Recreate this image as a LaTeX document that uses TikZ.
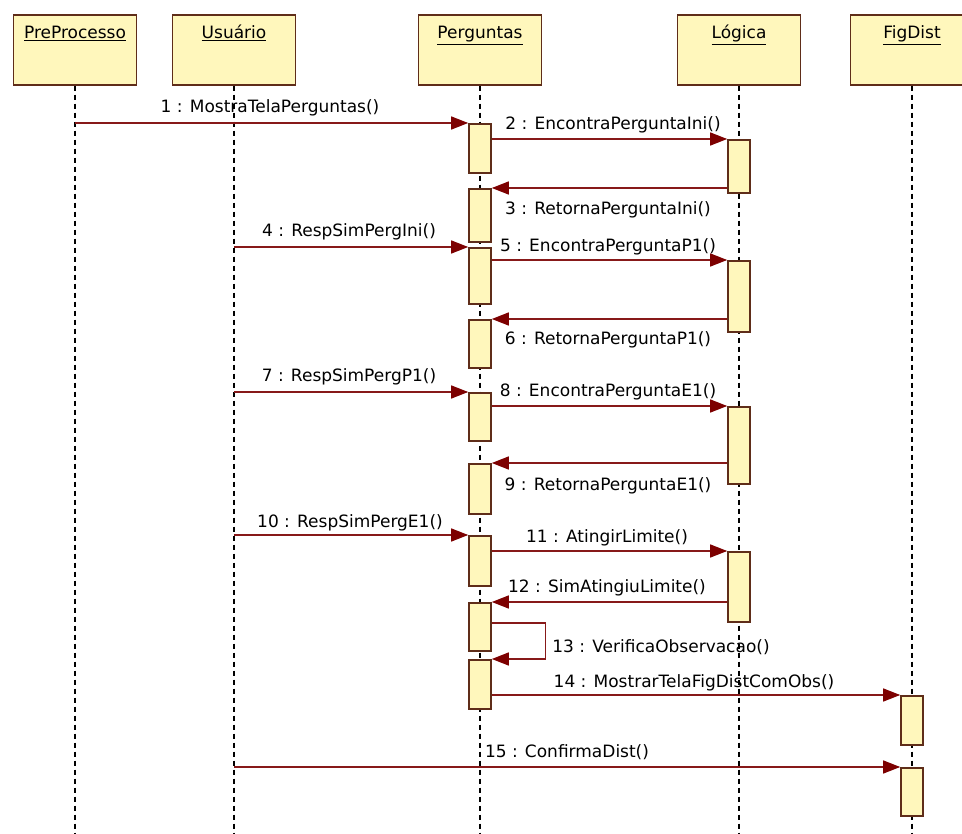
\documentclass[tikz,border=0pt]{standalone}
\usepackage{fontspec}
\setmainfont{DejaVu Sans}
\usetikzlibrary{arrows.meta,calc}
\definecolor{boxfill}{RGB}{255,247,188}
\definecolor{boxline}{RGB}{95,45,25}
\definecolor{msgline}{RGB}{135,25,25}
\definecolor{msghead}{RGB}{125,0,0}
\begin{document}
\begin{tikzpicture}[x=1pt,y=-1pt,
  hdr/.style={draw=boxline,line width=1.6pt,fill=boxfill,minimum width=123pt,minimum height=70pt,anchor=north,inner sep=0pt},
  hdrtext/.style={font=\fontsize{17}{20}\selectfont,anchor=base,inner sep=0pt},
  act/.style={draw=boxline,line width=1.6pt,fill=boxfill,minimum width=22pt,anchor=north,inner sep=0pt},
  life/.style={line width=1.3pt,dash pattern=on 5pt off 4pt},
  msg/.style={draw=msgline,line width=1.3pt,-{Triangle[length=17pt,width=13pt,fill=msghead,color=msghead]}},
  lbl/.style={font=\fontsize{17}{20}\selectfont,anchor=base,inner sep=0pt}]
\useasboundingbox (0,0) rectangle (962,834);
\clip (0,0) rectangle (962,834);
\fill[white] (0,0) rectangle (962,834);

% headers
\node[hdr] (Pre) at (75,14) {};
\node[hdr] (Usu) at (234,14) {};
\node[hdr] (Per) at (480,14) {};
\node[hdr] (Log) at (739,14) {};
\node[hdr] (Fig) at (912,14) {};
\node[hdrtext] (PreT) at (75,39) {\underline{PreProcesso}};
\node[hdrtext] (UsuT) at (234,39) {\underline{Usuário}};
\node[hdrtext] (PerT) at (480,39) {\underline{Perguntas}};
\node[hdrtext] (LogT) at (739,39) {\underline{Lógica}};
\node[hdrtext] (FigT) at (912,39) {\underline{FigDist}};

% lifelines
\foreach \n in {Pre,Usu,Per,Log,Fig}
  \draw[life] (\n.south) -- (\n.south |- 0,834);

% activations on Perguntas
\node[act,minimum height=49pt] (A1) at (480,123) {};
\node[act,minimum height=53pt] (A2) at (480,188) {};
\node[act,minimum height=56pt] (A3) at (480,247) {};
\node[act,minimum height=48pt] (A4) at (480,319) {};
\node[act,minimum height=48pt] (A5) at (480,392) {};
\node[act,minimum height=50pt] (A6) at (480,463) {};
\node[act,minimum height=50pt] (A7) at (480,535) {};
\node[act,minimum height=48pt] (A8) at (480,602) {};
\node[act,minimum height=49pt] (A9) at (480,659) {};
% activations on Logica
\node[act,minimum height=53pt] (B1) at (739,139) {};
\node[act,minimum height=71pt] (B2) at (739,260) {};
\node[act,minimum height=77pt] (B3) at (739,406) {};
\node[act,minimum height=70pt] (B4) at (739,551) {};
% activations on FigDist
\node[act,minimum height=49pt] (C1) at (912,695) {};
\node[act,minimum height=48pt] (C2) at (912,767) {};

% messages
\draw[msg] (Pre.south |- A1.north) -- (A1.north west);
\draw[msg] (A1.east |- B1.north) -- (B1.north west);
\draw[msg] (B1.west |- A2.north) -- (A2.north east);
\draw[msg] (Usu.south |- A3.north) -- (A3.north west);
\draw[msg] (A3.east |- B2.north) -- (B2.north west);
\draw[msg] (B2.west |- A4.north) -- (A4.north east);
\draw[msg] (Usu.south |- A5.north) -- (A5.north west);
\draw[msg] (A5.east |- B3.north) -- (B3.north west);
\draw[msg] (B3.west |- A6.north) -- (A6.north east);
\draw[msg] (Usu.south |- A7.north) -- (A7.north west);
\draw[msg] (A7.east |- B4.north) -- (B4.north west);
\draw[msg] (B4.west |- A8.north) -- (A8.north east);
\draw[msg] ($(A8.north east)+(0,21)$) -- ++(54,0) |- (A9.north east);
\draw[msg] (A9.east |- C1.north) -- (C1.north west);
\draw[msg] (Usu.south |- C2.north) -- (C2.north west);

% labels
\node[lbl] (L1) at (270,113) {1 : MostraTelaPerguntas()};
\node[lbl] (L2) at (613,130) {2 : EncontraPerguntaIni()};
\node[lbl] (L3) at (608,215) {3 : RetornaPerguntaIni()};
\node[lbl] (L4) at (349,237) {4 : RespSimPergIni()};
\node[lbl] (L5) at (608,252) {5 : EncontraPerguntaP1()};
\node[lbl] (L6) at (608,345) {6 : RetornaPerguntaP1()};
\node[lbl] (L7) at (349,382) {7 : RespSimPergP1()};
\node[lbl] (L8) at (608,397) {8 : EncontraPerguntaE1()};
\node[lbl] (L9) at (608,490) {9 : RetornaPerguntaE1()};
\node[lbl] (L10) at (350,527) {10 : RespSimPergE1()};
\node[lbl] (L11) at (607,542) {11 : AtingirLimite()};
\node[lbl] (L12) at (607,592) {12 : SimAtingiuLimite()};
\node[lbl] (L13) at (661,652) {13 : VerificaObservacao()};
\node[lbl] (L14) at (694,687) {14 : MostrarTelaFigDistComObs()};
\node[lbl] (L15) at (567,757) {15 : ConfirmaDist()};
\end{tikzpicture}
\end{document}
